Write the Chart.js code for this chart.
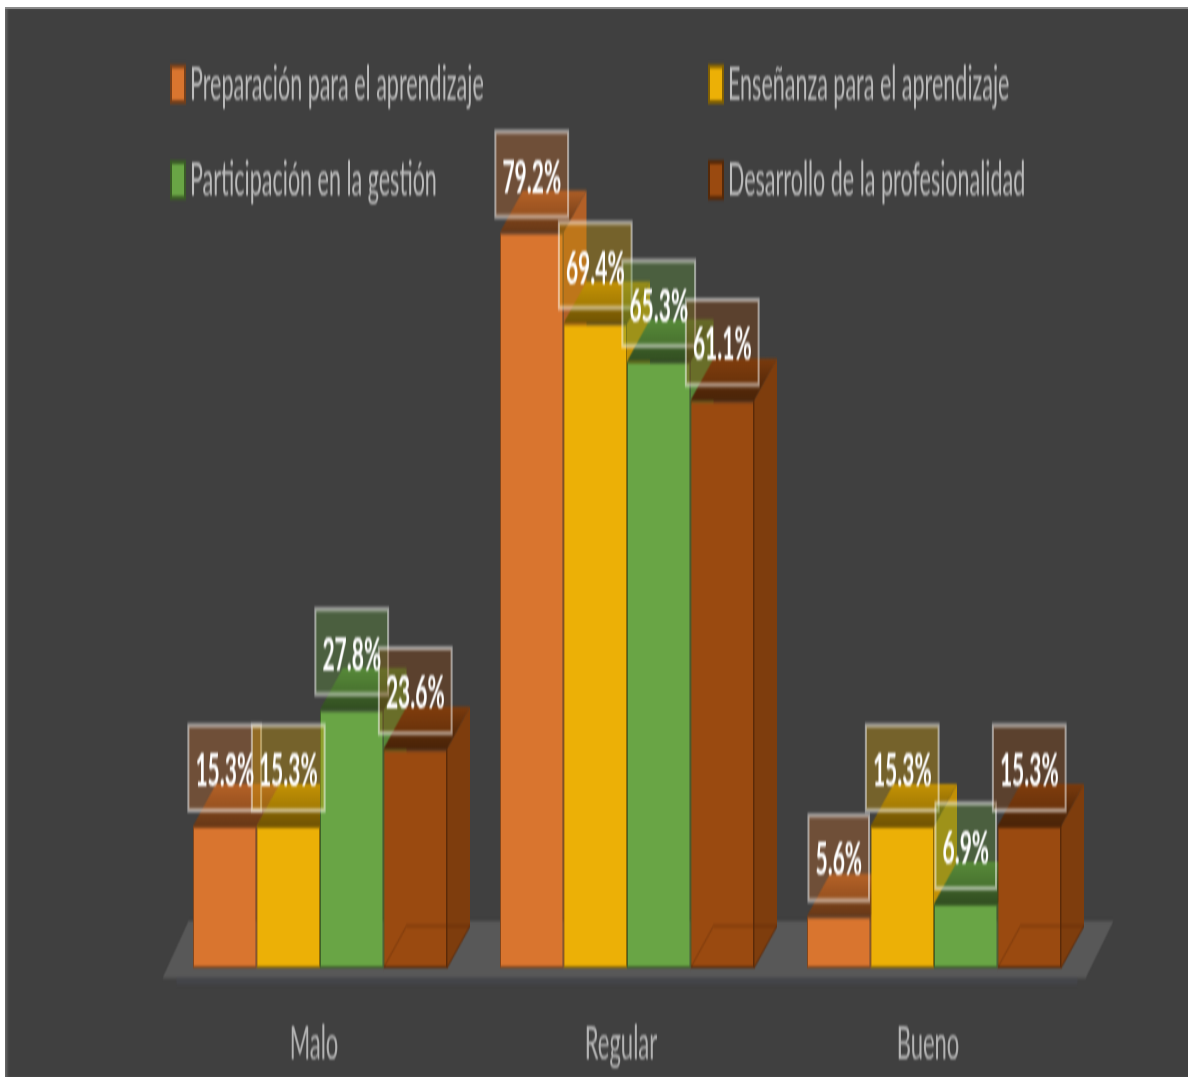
<!DOCTYPE html>
<html lang="es">
<head>
<meta charset="utf-8">
<title>Chart</title>
<script src="https://cdn.jsdelivr.net/npm/chart.js@4"></script>
<style>
html,body{margin:0;padding:0;background:#fff;width:1190px;height:1077px;overflow:hidden}
#panel{position:absolute;left:5px;top:7px;width:1183px;height:1070px;background:#404040;border-top:2px solid #8a8a8a;box-sizing:border-box;box-shadow:inset 3px 0 3px -1px #6a6a6a}
#wrap{position:absolute;left:0;top:0;width:1190px;height:485px;transform-origin:0 0;transform:scaleY(2.2206);filter:blur(.5px)}
canvas{display:block}
</style>
</head>
<body>
<div id="panel"></div>
<div id="wrap"><canvas id="c" width="1190" height="485"></canvas></div>
<script>
const categories = ['Malo', 'Regular', 'Bueno'];
const preparacion = [15.3, 79.2, 5.6];
const ensenanza = [15.3, 69.4, 15.3];
const participacion = [27.8, 65.3, 6.9];
const desarrollo = [23.6, 61.1, 15.3];
const seriesNames = ['Preparación para el aprendizaje', 'Enseñanza para el aprendizaje', 'Participación en la gestión', 'Desarrollo de la profesionalidad'];
const seriesColors = [[217,117,47], [236,176,6], [105,165,69], [154,74,16]];

const K = 485 / 1077;              // vertical squeeze of the drawing surface
const DX = 23, DY = 42 * K;        // depth of the 3D boxes
const FONT = 'Lato, "Open Sans", sans-serif';
const rgb = (c, f, a) => `rgba(${c.map(v => Math.round(v * f)).join(',')},${a === undefined ? 1 : a})`;

function poly(ctx, pts, fill) {
  ctx.beginPath();
  pts.forEach((p, i) => i ? ctx.lineTo(p[0], p[1]) : ctx.moveTo(p[0], p[1]));
  ctx.closePath();
  ctx.fillStyle = fill;
  ctx.fill();
}

const scene3d = {
  id: 'scene3d',
  beforeDatasetsDraw(chart) {
    const ctx = chart.ctx, xs = chart.scales.x, ys = chart.scales.y, y0 = ys.getPixelForValue(0);
    // floor
    poly(ctx, [[xs.left - 4, y0 + 10 * K], [xs.right - 2, y0 + 10 * K], [xs.right + 26, y0 - 47 * K], [xs.left + 22, y0 - 47 * K]], '#585858');
    ctx.fillStyle = 'rgba(70,72,80,.6)';
    ctx.fillRect(xs.left + 10, y0 + 10 * K, xs.right - xs.left - 20, 3);
    // box faces, left to right within each group
    categories.forEach((_, ci) => {
      chart.data.datasets.forEach((ds, di) => {
        const b = chart.getDatasetMeta(di).data[ci], c = seriesColors[di];
        const l = b.x - b.width / 2, r = b.x + b.width / 2, t = b.y;
        const g = ctx.createLinearGradient(0, t, 0, t - DY);
        g.addColorStop(0, rgb(c, .48)); g.addColorStop(.35, rgb(c, .56)); g.addColorStop(1, rgb(c, .8));
        poly(ctx, [[r, y0], [r + DX, y0 - DY], [r + DX, t - DY], [r, t]], rgb(c, .82));
        poly(ctx, [[l, t], [r, t], [r + DX, t - DY], [l + DX, t - DY]], g);
      });
    });
  },
  afterDatasetsDraw(chart) {
    const ctx = chart.ctx, ys = chart.scales.y, y0 = ys.getPixelForValue(0);
    // faint inner edges of the rightmost box of each group
    const last = chart.data.datasets.length - 1;
    categories.forEach((_, ci) => {
      const b = chart.getDatasetMeta(last).data[ci], l = b.x - b.width / 2, r = b.x + b.width / 2;
      ctx.strokeStyle = 'rgba(90,40,8,.45)';
      ctx.lineWidth = 1;
      ctx.beginPath();
      ctx.moveTo(l, y0); ctx.lineTo(l + DX, y0 - DY); ctx.lineTo(r + DX, y0 - DY);
      ctx.stroke();
      ctx.strokeStyle = 'rgba(90,40,8,.85)';
      ctx.beginPath();
      ctx.moveTo(r, b.y); ctx.lineTo(r, y0); ctx.lineTo(r + DX, y0 - DY);
      ctx.stroke();
    });
    // value boxes
    ctx.textAlign = 'center';
    ctx.textBaseline = 'middle';
    ctx.font = '700 21px ' + FONT;
    chart.data.datasets.forEach((ds, di) => {
      ds.data.forEach((v, ci) => {
        const b = chart.getDatasetMeta(di).data[ci], c = seriesColors[di];
        const txt = v.toFixed(1) + '%';
        const w = ctx.measureText(txt).width + 14, h = 85 * K, cy = b.y - 58 * K;
        ctx.fillStyle = rgb(c, .9, .36);
        ctx.fillRect(b.x - w / 2, cy - h / 2, w, h);
        ctx.strokeStyle = 'rgba(255,255,255,.5)';
        ctx.lineWidth = 2;
        ctx.strokeRect(b.x - w / 2, cy - h / 2, w, h);
      });
    });
    chart.data.datasets.forEach((ds, di) => {
      ds.data.forEach((v, ci) => {
        const b = chart.getDatasetMeta(di).data[ci];
        ctx.fillStyle = '#ffffff';
        ctx.fillText(v.toFixed(1) + '%', b.x, b.y - 55 * K);
      });
    });
    // legend, two aligned columns
    ctx.textAlign = 'left';
    ctx.font = '400 21.5px ' + FONT;
    const cols = [170, 708], rows = [84 * K, 180 * K];
    chart.data.datasets.forEach((ds, di) => {
      const x = cols[di % 2], y = rows[Math.floor(di / 2)], c = seriesColors[di];
      ctx.fillStyle = rgb(c, .55);
      ctx.fillRect(x, y - 20 * K, 16, 40 * K);
      ctx.fillStyle = rgb(c, 1);
      ctx.fillRect(x + 2, y - 16 * K, 12, 32 * K);
      ctx.fillStyle = '#bcbcbc';
      ctx.fillText(ds.label, x + 20, y);
    });
  }
};

const series = [preparacion, ensenanza, participacion, desarrollo];
new Chart(document.getElementById('c'), {
  type: 'bar',
  data: {
    labels: categories,
    datasets: series.map((d, i) => ({
      label: seriesNames[i],
      data: d,
      backgroundColor: rgb(seriesColors[i], 1),
      borderColor: rgb(seriesColors[i], .6),
      borderWidth: 1,
      borderSkipped: false
    }))
  },
  options: {
    responsive: false,
    animation: false,
    devicePixelRatio: 1,
    layout: { padding: { left: 166.5, right: 102.5, top: 39 * K, bottom: 0 } },
    plugins: { legend: { display: false }, tooltip: { enabled: false } },
    datasets: { bar: { categoryPercentage: 254 / 307, barPercentage: 1 } },
    scales: {
      y: { display: false, min: 0, max: 100 },
      x: {
        grid: { display: false },
        border: { display: false },
        afterFit(s) { s.height = 49.1; },
        ticks: { color: '#b4b4b4', font: { family: FONT, size: 22, weight: '400' }, padding: 13, labelOffset: -6, maxRotation: 0 }
      }
    }
  },
  plugins: [scene3d]
});
</script>
</body>
</html>
